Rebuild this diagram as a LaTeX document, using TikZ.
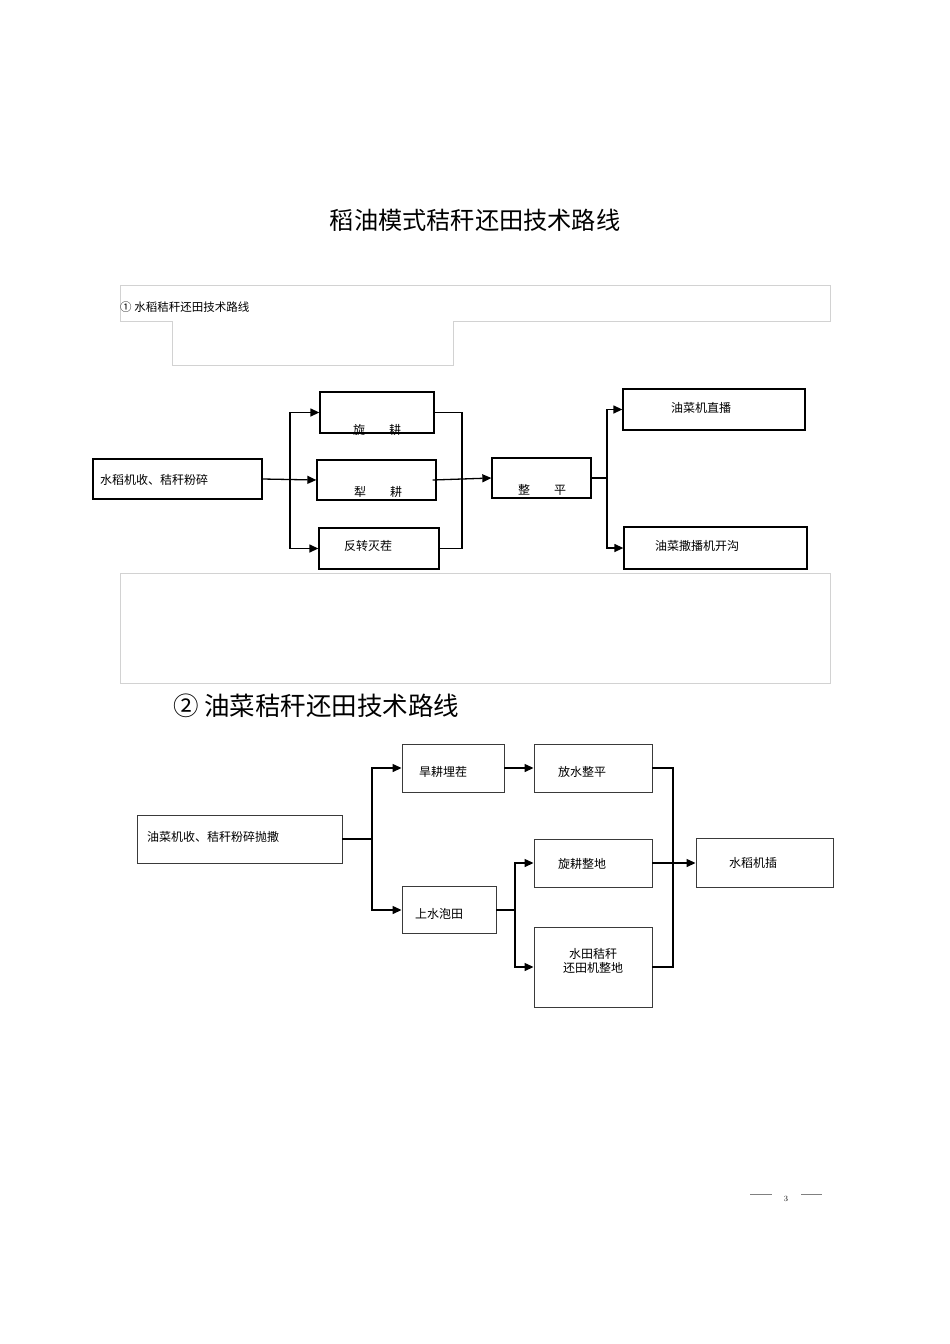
\documentclass[tikz,border=0pt]{standalone}
\usepackage{fontspec}
\newfontfamily\cjk{Noto Sans CJK SC}
\usepackage{tikz}
\usetikzlibrary{
  positioning,
  arrows.meta
}
\definecolor{panelgray}{HTML}{D2D2D2}
\definecolor{boxgray}{HTML}{3A3A3A}
\tikzstyle{box}=[draw, line width=1.3pt, inner sep=0pt]
\tikzstyle{boxb}=[draw=boxgray, line width=0.9pt, inner sep=0pt]
\tikzstyle{txt}=[font=\cjk\fontsize{12}{14}\selectfont, inner sep=0pt]
\tikzstyle{conn}=[line width=1.3pt]
\tikzstyle{flow}=[conn, -{Triangle[length=9pt, width=8pt]}]
\tikzstyle{panel}=[draw=panelgray, line width=0.8pt]

\begin{document}
\begin{tikzpicture}[x=1pt, y=-1pt]
    \useasboundingbox (0,0) rectangle (950,1344);

    % 标题
    \node[font=\cjk\fontsize{24.2}{28}\selectfont] (title) at (475,220) {稻油模式秸秆还田技术路线};

    % ① 水稻秸秆还田(上)
    \draw[panel] (120,285) -- (830,285) -- (830,321) -- (453,321) -- (453,365)
      -- (172,365) -- (172,321) -- (120,321) -- cycle;
    \node[txt, anchor=west, font=\cjk\fontsize{11.5}{14}\selectfont] (head1) at (120,307) {① 水稻秸秆还田技术路线};

    % 方框
    \node[box, minimum width=169pt, minimum height=40pt] (harv) at (177.5,479) {};
    \node[box, minimum width=114pt, minimum height=41pt] (rot) at (377,412.5) {};
    \node[box, minimum width=119pt, minimum height=40pt] (plow) at (376.5,480) {};
    \node[box, minimum width=120pt, minimum height=41pt] (stub) at (379,548.5) {};
    \node[box, minimum width=99pt, minimum height=40pt] (level) at (541.5,478) {};
    \node[box, minimum width=182pt, minimum height=41pt] (drill) at (714,409.5) {};
    \node[box, minimum width=183pt, minimum height=42pt] (broad) at (715.5,548) {};

    % 文字
    \node[txt, anchor=west] (tharv) at (100,480) {水稻机收、秸秆粉碎};
    \node[txt] (trot) at (377,430) {旋\hspace{2em}耕};
    \node[txt] (tplow) at (378,492) {犁\hspace{2em}耕};
    \node[txt] (tstub) at (368,546) {反转灭茬};
    \node[txt] (tlevel) at (542,490) {整\hspace{2em}平};
    \node[txt] (tdrill) at (701,408) {油菜机直播};
    \node[txt] (tbroad) at (697,546) {油菜撒播机开沟};

    % 连线
    \coordinate (j1) at (290,479);
    \coordinate (j2) at (462,479);
    \coordinate (j3) at (607,478);
    \draw[flow] (harv.east) -- (plow.west);
    \draw[flow] (j1) |- (rot.west);
    \draw[flow] (j1) |- (stub.west);
    \draw[conn] (rot.east) -| (j2) |- (stub.east);
    \draw[flow] ([xshift=-4pt]plow.east) -- (level.west);
    \draw[conn] (level.east) -- (j3);
    \draw[flow] (j3) |- (drill.west);
    \draw[flow] (j3) |- (broad.west);

    % 空白框
    \draw[panel] (120,573) rectangle (830,683);

    % ② 油菜秸秆还田(下)
    \node[txt, anchor=west, font=\cjk\fontsize{25.5}{30}\selectfont] (head2) at (173,706) {② 油菜秸秆还田技术路线};

    % 方框
    \node[boxb, minimum width=205pt, minimum height=48pt] (rape) at (239.5,839) {};
    \node[boxb, minimum width=102pt, minimum height=48pt] (dry) at (453,768) {};
    \node[boxb, minimum width=94pt, minimum height=47pt] (soak) at (449,910) {};
    \node[boxb, minimum width=118pt, minimum height=48pt] (drain) at (593,768) {};
    \node[boxb, minimum width=118pt, minimum height=48pt] (rotl) at (593,863) {};
    \node[boxb, minimum width=118pt, minimum height=80pt] (paddy) at (593,967) {};
    \node[boxb, minimum width=137pt, minimum height=49pt] (trans) at (764.5,863) {};
    \draw[boxgray, line width=1.6pt] (trans.north east) -- (trans.south east);

    % 文字
    \node[txt, anchor=west] (trape) at (147,837) {油菜机收、秸秆粉碎抛撒};
    \node[txt, anchor=west] (tdry) at (419,772) {旱耕埋茬};
    \node[txt, anchor=west] (tsoak) at (415,914) {上水泡田};
    \node[txt] (tdrain) at (582,772) {放水整平};
    \node[txt] (trotl) at (582,864) {旋耕整地};
    \node[txt, align=center, font=\cjk\fontsize{12}{14}\selectfont] (tpaddy) at (593,961) {水田秸秆\\还田机整地};
    \node[txt] (ttrans) at (753,863) {水稻机插};

    % 连线
    \coordinate (j4) at (372,839);
    \coordinate (j5) at (515,910);
    \coordinate (j6) at (673,863);
    \draw[conn] (rape.east) -- (j4);
    \draw[flow] (j4) |- (dry.west);
    \draw[flow] (j4) |- (soak.west);
    \draw[flow] (dry.east) -- (drain.west);
    \draw[conn] (soak.east) -- (j5);
    \draw[flow] (j5) |- (rotl.west);
    \draw[flow] (j5) |- (paddy.west);
    \draw[conn] (drain.east) -| (j6) |- (paddy.east);
    \draw[flow] (rotl.east) -- (trans.west);

    % 页码
    \draw[gray, line width=0.8pt] (750,1194) -- (772,1194);
    \draw[gray, line width=0.8pt] (801,1194) -- (822,1194);
    \node[font=\fontsize{8}{10}\selectfont, inner sep=0pt] (pnum) at (786,1199) {3};
  \end{tikzpicture}
\end{document}
